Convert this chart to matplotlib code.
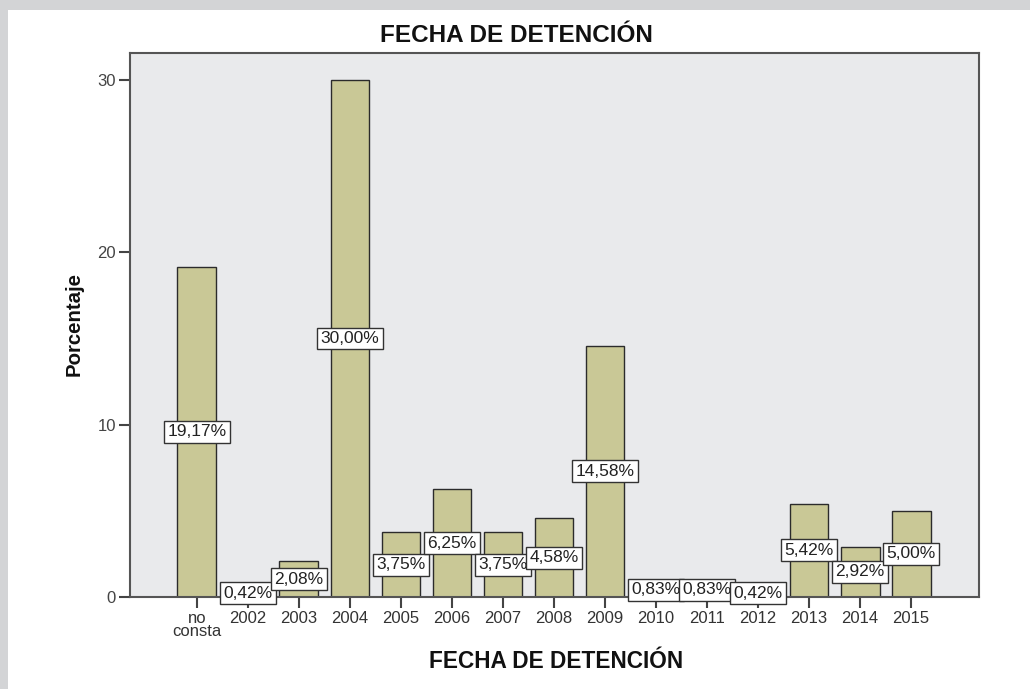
import matplotlib
matplotlib.use('Agg')
import matplotlib.pyplot as plt
from matplotlib.patches import Rectangle

plt.rcParams['font.family'] = ['Liberation Sans', 'DejaVu Sans']

# data
categories = ['no\nconsta', '2002', '2003', '2004', '2005', '2006', '2007', '2008',
              '2009', '2010', '2011', '2012', '2013', '2014', '2015']
porcentaje = [19.17, 0.42, 2.08, 30.00, 3.75, 6.25, 3.75, 4.58,
              14.58, 0.83, 0.83, 0.42, 5.42, 2.92, 5.00]
yticks = [0, 10, 20, 30]

fig = plt.figure(figsize=(10.30, 6.89), dpi=100)
fig.patch.set_facecolor('white')

# gris del recorte de pantalla (arriba e izquierda)
fig.patches.append(Rectangle((0, 1 - 10 / 689), 1, 10 / 689, transform=fig.transFigure,
                             facecolor='#d3d4d6', edgecolor='none', zorder=0))
fig.patches.append(Rectangle((0, 0), 8 / 1030, 1, transform=fig.transFigure,
                             facecolor='#d3d4d6', edgecolor='none', zorder=0))

ax = fig.add_axes([130 / 1030, 1 - 597 / 689, (979 - 130) / 1030, (597 - 53) / 689])
ax.set_facecolor('#e9eaec')

x = range(len(categories))
ax.bar(x, porcentaje, width=0.76, color='#c9c896', edgecolor='#2b2b2b', linewidth=1.0, zorder=2)

for i, v in zip(x, porcentaje):
    txt = '{:.2f}%'.format(v).replace('.', ',')
    ax.text(i, v / 2, txt, ha='center', va='center', fontsize=12.5, color='#222222',
            zorder=4, clip_on=False,
            bbox=dict(boxstyle='square,pad=0.2', facecolor='white', edgecolor='#333333', linewidth=1.0))

ax.set_xlim(-1.31, 15.33)
ax.set_ylim(0, 31.57)
ax.set_xticks(list(x))
ax.set_xticklabels(categories, fontsize=12, color='#333333', linespacing=0.85)
ax.set_yticks(yticks)
ax.set_yticklabels([str(t) for t in yticks], fontsize=12, color='#444444')
ax.tick_params(axis='both', length=8, width=1.5, color='#444444', pad=2)

for s in ax.spines.values():
    s.set_color('#555555')
    s.set_linewidth(1.5)

fig.text(516 / 1030, 1 - 36 / 689, 'FECHA DE DETENCIÓN', ha='center', va='center',
         fontsize=17.5, fontweight='bold', color='#111111')
fig.text(556 / 1030, 1 - 662 / 689, 'FECHA DE DETENCIÓN', ha='center', va='center',
         fontsize=16.3, fontweight='bold', color='#111111')
fig.text(74 / 1030, 1 - 324 / 689, 'Porcentaje', ha='center', va='center', rotation=90,
         fontsize=14.7, fontweight='bold', color='#111111')

fig.savefig('out.png', dpi=100)
